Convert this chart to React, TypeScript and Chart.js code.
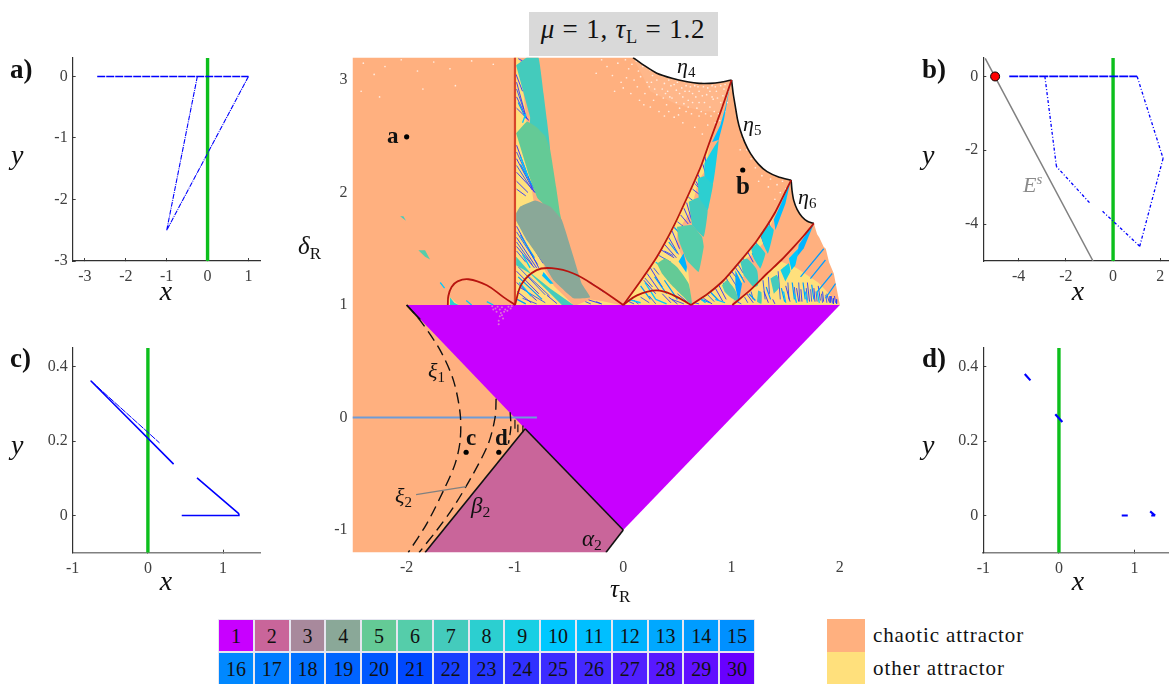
import React, { useEffect, useRef } from "react";
import { Chart, registerables } from "chart.js";
Chart.register(...registerables);

type P = number[];
const serif = "'Liberation Serif', serif";

// ---------- legend ----------
const regimeNumbers = [1,2,3,4,5,6,7,8,9,10,11,12,13,14,15,16,17,18,19,20,21,22,23,24,25,26,27,28,29,30];
const regimeColors = ["#c800ff","#c9659a","#a8899c","#8aa898","#64ca96","#55cdaa","#44cbbc","#2ccfd0","#18cfe4","#00c8ff","#00bfff","#00b4ff","#00a8ff","#009cff","#0090ff","#0088ff","#007cff","#0070ff","#0064ff","#0058ff","#0048ff","#1840ff","#2438ff","#3030ff","#3c2cff","#4428ff","#5020ff","#5818ff","#6010ff","#6800ff"];
const chaoticColor = "#ffb07f";
const otherColor = "#ffe07c";
const attractorLabels = ["chaotic attractor","other attractor"];

// ---------- main panel: curves ----------
const eta4: P[] = [[0.09,3.2],[0.2,3.125],[0.31,3.06],[0.45,3.015],[0.59,2.985],[0.7,2.97],[0.8,2.97],[0.9,2.98],[1.0,3.0]];
const eta5: P[] = [[1.0,3.0],[1.015,2.88],[1.035,2.763],[1.055,2.65],[1.08,2.555],[1.12,2.45],[1.174,2.348],[1.25,2.25],[1.328,2.185],[1.44,2.135],[1.55,2.11]];
const eta6: P[] = [[1.55,2.11],[1.558,2.02],[1.574,1.93],[1.605,1.85],[1.65,1.785],[1.7,1.745],[1.76,1.725]];
const jaggedEdge: P[] = [[1.79,1.63],[1.81,1.6],[1.85,1.517],[1.87,1.5],[1.9,1.38],[1.944,1.28],[1.97,1.15],[2.0,1.0]];
const redRight1: P[] = [[0,1],[0.15,1.2],[0.31,1.427],[0.47,1.71],[0.62,2.02],[0.72,2.24],[0.804,2.467],[0.9,2.72],[1,3]];
const redRight2: P[] = [[0.626,1],[0.78,1.1],[0.927,1.22],[1.08,1.39],[1.236,1.576],[1.4,1.82],[1.55,2.11]];
const redRight3: P[] = [[1.007,1],[1.17,1.13],[1.328,1.28],[1.46,1.4],[1.574,1.517],[1.67,1.62],[1.76,1.725]];
const arcLeft: P[] = [[-1.62,1],[-1.615,1.08],[-1.585,1.16],[-1.53,1.21],[-1.43,1.229],[-1.26,1.175],[-1.106,1.07],[-1,1]];
const arcBig: P[] = [[-1,1],[-0.936,1.19],[-0.8,1.31],[-0.66,1.327],[-0.46,1.28],[-0.243,1.16],[0,1]];
const arcSmall: P[] = [[0,1],[0.127,1.086],[0.31,1.13],[0.465,1.086],[0.626,1]];
const redVertical: P[] = [[-1,1],[-1,3.2]];
const blueLevel: P[] = [[-2.5,0],[-0.797,0]];
const xi1: P[] = [[-2,1],[-1.876,0.864],[-1.69,0.597],[-1.568,0.33],[-1.506,0.035],[-1.506,-0.205],[-1.552,-0.41],[-1.66,-0.65],[-1.815,-0.945],[-1.985,-1.2]];
const xi2: P[] = [[-1.174,0.167],[-1.183,0.003],[-1.246,-0.233],[-1.385,-0.5],[-1.57,-0.8],[-1.72,-1.0],[-1.885,-1.2]];
const xi3: P[] = [[-1.044,0.047],[-1.038,-0.086],[-1.06,-0.233]];
const xiShort = [[-0.973,-0.063,-0.973,-0.13],[-0.927,-0.07,-0.927,-0.13],[-1.0,-0.02,-1.0,-0.1]];
const xi2Leader: P[] = [[-1.913,-0.686],[-1.451,-0.614]];
const beta2: P[] = [[-0.906,-0.1],[-1.83,-1.2]];
const alpha2: P[] = [[0,-1],[-0.16,-1.2]];
const upperEdge2: P[] = [[-0.906,-0.1],[0,-1]];
const cornerEdge: P[] = [[-2,1],[-1.875,0.87]];
const markerPoints: P[] = [[-2,2.495],[1.103,2.2],[-1.451,-0.309],[-1.149,-0.309]];

// ---------- main panel: regions ----------
const purpleRegion: P[] = [[-2,1],[2,1],[0,-1],[-0.906,-0.1]];
const pinkRegion: P[] = [[-0.906,-0.1],[0,-1],[-0.16,-1.2],[-1.83,-1.2]];
const yellowLeft: P[] = [[-1,1],[-1,3.2],[-0.96,3.2],[-0.9,2.7],[-0.84,2.0],[-0.75,1.4],[-0.72,1.3],[-0.64,1.17],[-0.46,1.0]];
const yellowMiddle: P[] = [[-0.428,1],[-0.306,1.05],[-0.2,1.035],[-0.03,1.0]];
const yellowFarLeft: P[] = [[-1.62,1],[-1.6,1.07],[-1.52,1.0]];
const yellowWedge1: P[] = [[0,1],[0.31,1.427],[0.62,2.02],[0.80,2.44],[0.76,2.2],[0.69,2.1],[0.63,1.85],[0.5,1.65],[0.49,1.55],[0.6,1.3],[0.63,1.0]];
const yellowWedge2: P[] = [[0.626,1],[0.927,1.22],[1.236,1.576],[1.40,1.80],[1.30,1.56],[1.2,1.45],[1.14,1.42],[1.1,1.2],[1.0,1.0]];
const yellowWedge3: P[] = [[1.007,1],[1.328,1.28],[1.45,1.39],[1.6,1.33],[1.8,1.2],[1.95,1.05],[2,1]];
const speckleBand: P[] = [[0.09,3.2],[0.31,3.06],[0.59,2.985],[0.8,2.97],[1.0,3.0],[0.9,2.72],[0.75,2.72],[0.5,2.78],[0.25,2.9]];

const tealTop: P[] = [[-0.989,3.13],[-0.89,3.2],[-0.783,3.2],[-0.736,2.88],[-0.705,2.645],[-0.675,2.378],[-0.72,2.3],[-0.86,2.5],[-0.86,2.67]];
const greenTop: P[] = [[-0.989,2.527],[-0.89,2.63],[-0.8,2.58],[-0.72,2.5],[-0.675,2.38],[-0.62,2.05],[-0.583,1.81],[-0.56,1.7],[-0.66,1.83],[-0.79,1.95],[-0.87,2.15]];
const grayBlob: P[] = [[-0.989,1.815],[-0.952,1.875],[-0.813,1.93],[-0.675,1.875],[-0.567,1.755],[-0.46,1.43],[-0.383,1.19],[-0.306,1.07],[-0.46,1.06],[-0.644,1.22],[-0.736,1.368],[-0.89,1.575],[-0.989,1.75]];
const tealSliver: P[] = [[-0.989,1.428],[-0.86,1.29],[-0.675,1.146],[-0.459,1.0],[-0.567,1.0],[-0.86,1.28],[-0.989,1.353]];
const blueSliver: P[] = [[-0.736,1.294],[-0.644,1.19],[-0.675,1.19],[-0.75,1.26]];
const tealFar1: P[] = [[-1.892,1.487],[-1.83,1.487],[-1.784,1.404],[-1.83,1.428]];
const tealFar2: P[] = [[-2.06,1.79],[-2.03,1.79],[-2.007,1.75]];
const tealFar3: P[] = [[-1.6,1.07],[-1.56,1.02],[-1.52,1.0],[-1.6,1.0]];

const w1Green: P[] = [[0.311,1.368],[0.388,1.413],[0.496,1.338],[0.604,1.19],[0.635,0.997],[0.558,1.071],[0.434,1.19],[0.357,1.28]];
const w1Teal6: P[] = [[0.496,1.695],[0.635,1.71],[0.727,1.606],[0.743,1.517],[0.696,1.294],[0.588,1.398],[0.511,1.576]];
const w1Teal7: P[] = [[0.604,1.917],[0.696,1.956],[0.779,1.843],[0.743,1.606],[0.635,1.71]];
const w1Cyan8: P[] = [[0.687,2.125],[0.749,2.145],[0.829,2.08],[0.789,1.873],[0.779,1.843],[0.696,1.956]];
const w1Cyan9: P[] = [[0.749,2.259],[0.82,2.377],[0.881,2.467],[0.829,2.08],[0.749,2.145]];
const w1Blue11: P[] = [[0.82,2.45],[0.897,2.6],[0.943,2.76],[0.988,2.96],[0.93,2.65],[0.881,2.467]];
const w1Blue12: P[] = [[0.511,1.387],[0.557,1.46],[0.588,1.34],[0.582,1.29]];

const w2Teal6: P[] = [[0.912,1.175],[0.958,1.22],[1.035,1.13],[1.066,1.027],[1.005,1.057],[0.937,1.116]];
const w2Teal7: P[] = [[1.081,1.383],[1.143,1.413],[1.235,1.31],[1.244,1.175],[1.205,1.16],[1.112,1.265]];
const w2Cyan8: P[] = [[1.18,1.502],[1.235,1.546],[1.312,1.457],[1.266,1.324],[1.205,1.413]];
const w2Cyan9: P[] = [[1.266,1.636],[1.343,1.71],[1.39,1.666],[1.337,1.457],[1.297,1.53]];
const w2Blue11: P[] = [[1.39,1.76],[1.466,1.92],[1.543,2.095],[1.497,1.9],[1.405,1.666]];
const w2Blue13: P[] = [[1.035,1.31],[1.097,1.19],[1.066,1.027],[1.035,1.16]];

const w3Teal8a: P[] = [[1.359,1.235],[1.42,1.265],[1.442,1.16],[1.39,1.1]];
const w3Teal8b: P[] = [[1.245,1.13],[1.275,1.115],[1.275,1.012],[1.235,1.03]];
const w3Cyan10a: P[] = [[1.452,1.31],[1.529,1.37],[1.544,1.3],[1.497,1.21]];
const w3Cyan10b: P[] = [[1.529,1.415],[1.62,1.505],[1.59,1.355],[1.553,1.31]];
const w3Blue12: P[] = [[1.62,1.535],[1.727,1.685],[1.757,1.715],[1.667,1.505],[1.605,1.43]];

// ---------- main panel: fine stripes (x0,y0,x1,y1) ----------
const stripesPurple = [
  [-0.985,2.98,-0.9,2.68],[-0.985,2.85,-0.885,2.65],[-0.985,2.75,-0.87,2.64],[-0.99,3.05,-0.93,2.9],[-0.97,3.19,-0.93,3.17],
  [-0.985,2.42,-0.84,2.04],[-0.985,2.3,-0.82,2.0],[-0.985,2.18,-0.8,1.99],[-0.985,2.1,-0.88,2.0],[-0.985,2.03,-0.9,1.97],
  [-0.985,1.7,-0.78,1.33],[-0.985,1.6,-0.8,1.33],[-0.985,1.52,-0.82,1.33],[-0.94,1.68,-0.74,1.37],
  [-0.985,1.3,-0.78,1.1],[-0.985,1.2,-0.8,1.04],[-0.98,1.12,-0.85,1.02],[-0.705,1.087,-0.613,1.013],
  [-0.305,1.203,-0.183,1.116],[-0.32,1.045,-0.2,1.01],
  [0.35,1.49,0.47,1.42],[0.38,1.54,0.49,1.42],[0.42,1.6,0.51,1.45],[0.45,1.66,0.52,1.5],
  [0.53,1.8,0.6,1.72],[0.56,1.86,0.62,1.73],[0.585,1.91,0.63,1.76],
  [0.64,2.03,0.72,1.97],[0.67,2.1,0.73,2.0],[0.69,2.16,0.74,2.05],[0.735,2.25,0.76,2.17],[0.755,2.32,0.775,2.2],
  [0.19,1.22,0.3,1.1],[0.22,1.28,0.33,1.13],[0.25,1.33,0.36,1.16],[0.36,1.1,0.44,1.02],[0.42,1.07,0.5,1.01],[0.1,1.04,0.14,1.01],
  [0.74,1.06,0.82,1.01],[0.85,1.15,0.92,1.03],[0.88,1.18,0.95,1.05],[1.0,1.3,1.08,1.2],[1.03,1.34,1.1,1.24],[1.15,1.47,1.2,1.38],[1.19,1.52,1.22,1.44],[1.27,1.62,1.3,1.54],[1.3,1.67,1.33,1.6],
  [1.14,1.1,1.2,1.02],[1.3,1.12,1.34,1.02],[1.38,1.05,1.4,1.01],[1.5,1.17,1.54,1.03],[1.6,1.15,1.62,1.03],[1.7,1.2,1.72,1.03],[1.8,1.17,1.82,1.04],[1.88,1.1,1.9,1.03],[1.95,1.08,1.96,1.02],[1.64,1.14,1.65,1.03],[1.76,1.15,1.77,1.03],[1.84,1.12,1.85,1.03],[1.92,1.08,1.93,1.02],
];
const stripesFine = [
  [-0.985,2.92,-0.92,2.74],[-0.985,2.36,-0.86,2.1],[-0.985,2.24,-0.84,2.02],[-0.985,1.65,-0.79,1.36],[-0.985,1.56,-0.84,1.36],[-0.985,1.48,-0.9,1.38],[-0.97,1.34,-0.72,1.09],[-0.96,1.16,-0.72,1.02],[-0.93,1.06,-0.8,1.01],[-0.88,1.26,-0.68,1.08],
  [0.03,1.04,0.1,1.01],[0.16,1.07,0.24,1.02],[0.24,1.08,0.3,1.01],[0.45,1.05,0.56,1.01],[0.5,1.1,0.6,1.02],[0.55,1.14,0.62,1.03],[0.2,1.24,0.27,1.16],[0.28,1.33,0.33,1.27],[0.33,1.44,0.44,1.38],[0.38,1.48,0.46,1.44],[0.5,1.74,0.58,1.68],[0.6,1.96,0.68,1.9],[0.66,2.08,0.72,2.02],
  [0.66,1.02,0.7,1.01],[0.78,1.09,0.84,1.03],[0.92,1.2,0.98,1.09],[0.95,1.24,1.02,1.12],[0.98,1.27,1.05,1.16],[1.06,1.36,1.11,1.28],[1.1,1.42,1.15,1.36],[1.22,1.56,1.27,1.48],[1.34,1.74,1.37,1.66],
  [1.05,1.03,1.09,1.01],[1.12,1.07,1.15,1.02],[1.18,1.12,1.2,1.05],[1.29,1.22,1.31,1.05],[1.34,1.25,1.35,1.1],[1.43,1.3,1.45,1.05],[1.52,1.2,1.53,1.05],[1.58,1.16,1.59,1.04],[1.62,1.2,1.63,1.03],[1.69,1.15,1.7,1.04],[1.73,1.14,1.74,1.03],[1.78,1.12,1.79,1.03],[1.83,1.1,1.84,1.02],[1.87,1.09,1.88,1.02],[1.91,1.08,1.91,1.02],[1.94,1.06,1.94,1.01],[1.97,1.05,1.97,1.01],
  [-0.35,1.03,-0.3,1.01],[-0.25,1.03,-0.2,1.01],
];
const stripesBlue = [
  [-0.97,2.8,-0.9,2.66],[-0.95,2.25,-0.82,2.03],[-0.8,2.06,-0.78,1.99],[-0.97,1.25,-0.75,1.05],[-0.95,1.62,-0.82,1.42],[-0.98,1.05,-0.9,1.01],
  [0.16,1.17,0.25,1.05],[0.29,1.25,0.4,1.1],[0.38,1.22,0.5,1.05],[0.42,1.56,0.5,1.46],[0.47,1.69,0.56,1.6],
  [0.8,1.12,0.88,1.04],[0.72,1.05,0.8,1.02],[1.06,1.3,1.12,1.2],[1.19,1.46,1.24,1.38],
  [1.16,1.1,1.22,1.04],[1.32,1.16,1.36,1.05],[1.46,1.15,1.49,1.03],[1.56,1.2,1.58,1.05],[1.66,1.2,1.68,1.05],[1.74,1.18,1.76,1.05],[1.851,1.5,1.637,1.25],[1.867,1.4,1.728,1.235],[1.929,1.28,1.79,1.117],[1.96,1.19,1.867,1.06],
];
const stripesCyan = [
  [-0.93,2.62,-0.9,2.7],[-0.95,2.32,-0.88,2.14],[-0.93,1.45,-0.86,1.33],[-0.96,1.2,-0.85,1.08],
  [0.05,1.05,0.16,1.02],[0.2,1.2,0.3,1.05],[0.3,1.05,0.4,1.01],[0.3,1.38,0.42,1.3],[0.72,1.05,0.76,1.02],[0.85,1.05,0.94,1.02],
  [1.48,1.12,1.5,1.02],[1.58,1.1,1.6,1.02],[1.68,1.12,1.7,1.02],[1.79,1.12,1.81,1.02],[-1.45,1.04,-1.4,1.0],[-1.26,1.03,-1.2,1.0],[-1.69,1.2,-1.65,1.15],
];

// ---------- main panel: dots ----------
const whiteSpeckle: P[] = [[0.12,3.17],[0.18,3.12],[0.16,3.03],[0.25,3.09],[0.22,2.98],[0.31,3.0],[0.34,3.05],[0.29,2.92],[0.38,2.97],[0.42,3.0],[0.41,2.9],[0.47,2.96],[0.5,2.98],[0.45,2.84],[0.54,2.93],[0.58,2.95],[0.55,2.85],[0.62,2.94],[0.66,2.95],[0.6,2.82],[0.7,2.9],[0.74,2.94],[0.67,2.85],[0.78,2.93],[0.82,2.95],[0.75,2.8],[0.86,2.9],[0.9,2.95],[0.83,2.83],[0.94,2.96],[0.97,2.9],[0.9,2.8],[0.96,2.8],[0.88,2.7],[0.72,2.72],[0.63,2.7],[0.52,2.75],[0.4,2.78],[0.28,2.82],[0.85,2.62],[0.78,2.6],[0.92,2.86],[0.7,2.8],[0.58,2.72],[0.47,2.67],[0.33,2.72],[0.2,2.88],[0.1,3.0],[0.05,3.1],[-0.05,3.15],[-0.1,3.04],[0.0,2.93],
  [0.14,3.08],[0.27,3.04],[0.36,2.92],[0.44,2.95],[0.52,2.88],[0.57,2.9],[0.64,2.88],[0.69,2.94],[0.73,2.86],[0.77,2.87],[0.8,2.9],[0.85,2.94],[0.87,2.84],[0.93,2.92],[0.91,2.76],[0.8,2.76],[0.68,2.75],[0.56,2.79],[0.43,2.85],[0.31,2.87],[0.24,2.94],[0.08,3.14],[0.03,3.02],[0.64,2.8],[0.76,2.7],[0.84,2.72],
  [0.19,2.78],[0.38,2.68],[0.55,2.62],[0.66,2.58],[0.73,2.52],[0.02,3.18],[-0.02,2.98],[0.07,2.88],[0.13,2.94],[0.37,2.84],[0.49,2.8],[0.6,2.76],[0.7,2.68],[0.81,2.68],[0.89,2.64],[0.94,2.72],[0.15,2.82],[0.25,2.76],[0.42,2.72],[0.51,2.69],[-0.15,3.12],[-0.2,3.18],[-0.25,3.06],[-0.08,2.9],[0.82,2.85],[0.72,2.98],[0.61,2.9],[0.49,2.91],[0.39,2.88],[0.26,2.98],
  [-2.4,3.15],[-2.3,3.05],[-2.2,3.12],[-2.05,3.18],[-1.9,3.08],[-1.75,3.16],[-1.6,3.1],[-1.4,3.17],[-1.2,3.14],[-2.42,2.9],[-2.25,2.85],[-1.85,2.92],[-1.55,2.95],
  [1.36,2.12],[1.42,2.07],[1.47,2.1],[1.5,2.03],[1.53,2.07],[1.45,2.0],[1.34,2.05],[1.28,2.15],[1.22,2.22],[1.25,2.1],[1.18,2.3],[1.14,2.38],[1.1,2.48],[1.5,1.96],[1.4,1.94],[1.08,2.38]];
const purpleSpeckle: P[] = [[-1.21,0.99],[-1.18,0.97],[-1.16,0.985],[-1.14,0.96],[-1.12,0.98],[-1.09,0.96],[-1.06,0.985],[-1.04,0.97],[-1.17,0.94],[-1.13,0.93],[-1.1,0.94],[-1.07,0.95],[-1.14,0.9],[-1.12,0.91],[-1.15,0.86],[-1.15,0.83],[-1.03,0.99],[-1.2,0.96],[-1.11,0.88]];

// ---------- phase portraits ----------
const aFlat = [[-2.7,0,1,0]];
const aOrbit = [[1,0,-1,-2.5],[-1,-2.5,-0.25,0]];
const bFlat = [[-4.4,0,1.02,0]];
const bOrbit = [[1.02,0,2.12,-2.22],[2.12,-2.22,1.13,-4.6],[1.13,-4.6,-0.5,-3.62],[-1.0,-3.42,-2.4,-2.44],[-2.4,-2.44,-2.89,0]];
const cOrbit = [[-0.76,0.362,0.342,0.138],[0.653,0.101,1.208,0.005],[0.45,0,1.2,0],[1.2,0,1.21,0.005]];
const cOrbitThin = [[-0.76,0.362,0.155,0.195]];
const dOrbit = [[-0.452,0.38,-0.377,0.363],[-0.048,0.272,0.045,0.251],[0.83,0,0.91,0],[1.206,0.011,1.272,0],[1.22,0,1.272,0]];
const eStable: P[] = [[-5.42,0.49],[-0.85,-5]];
const fixedPoint: P[] = [[-5.0,0]];

const ticksA = { x: [-3,-2,-1,0,1], y: [-3,-2,-1,0] };
const ticksB = { x: [-4,-2,0,2], y: [-4,-2,0] };
const ticksCD = { x: [-1,0,1], y: [0,0.2,0.4] };
const ticksMain = { x: [-2,-1,0,1,2], y: [-1,0,1,2,3] };

// ---------- dataset helpers ----------
const toPts = (a: P[]) => a.map(([x, y]) => ({ x, y }));
const segPts = (s: number[][]) => s.flatMap(([a, b, c, d]) => [{ x: a, y: b }, { x: c, y: d }, { x: c, y: NaN }]);
const region = (label: string, pts: P[], color: string, tension = 0) => ({
  label, data: toPts(pts), showLine: true, fill: "shape", backgroundColor: color, borderColor: color, borderWidth: 0, pointRadius: 0, tension,
});
const curve = (label: string, pts: P[], color: string, width: number, extra: any = {}) => ({
  label, data: toPts(pts), showLine: true, fill: false, borderColor: color, borderWidth: width, pointRadius: 0, tension: 0, ...extra,
});
const segs = (label: string, s: number[][], color: string, width: number, extra: any = {}) => ({
  label, data: segPts(s), showLine: true, fill: false, borderColor: color, borderWidth: width, pointRadius: 0, spanGaps: false, ...extra,
});
const dots = (label: string, pts: P[], color: string, r: number, extra: any = {}) => ({
  label, data: toPts(pts), showLine: false, backgroundColor: color, borderColor: color, borderWidth: 0, pointRadius: r, ...extra,
});
const rc = (n: number) => regimeColors[n - 1];
const red = "#b8140f";

// painter's order: first entry is drawn first
const mainDatasets = [
  region("chaotic", [[-2.5,3.2],...eta4,...eta5.slice(1),...eta6.slice(1),...jaggedEdge,[0,1],[-0.906,-0.1],[-1.83,-1.2],[-2.5,-1.2]], chaoticColor),
  region("speckle band", speckleBand, "rgba(255,228,208,0.14)"),
  dots("speckle", whiteSpeckle, "#ffeadd", 0.85),
  region("other-left", yellowLeft, otherColor),
  region("other-mid", yellowMiddle, otherColor),
  region("other-far", yellowFarLeft, otherColor),
  region("other-w1", yellowWedge1, otherColor),
  region("other-w2", yellowWedge2, otherColor),
  region("other-w3", yellowWedge3, otherColor),
  segs("stripes-purple", stripesPurple, rc(24), 0.9),
  segs("stripes-fine", stripesFine, rc(22), 0.8),
  segs("stripes-blue", stripesBlue, rc(14), 1.2),
  segs("stripes-cyan", stripesCyan, rc(10), 1.3),
  region("r7-top", tealTop, rc(7), 0.1),
  region("r5-top", greenTop, rc(5), 0.1),
  region("r4", grayBlob, rc(4), 0.1),
  region("r7-sliver", tealSliver, rc(7)),
  region("r11-sliver", blueSliver, rc(11)),
  region("r7-far1", tealFar1, rc(6)),
  region("r7-far2", tealFar2, rc(7)),
  region("r9-far3", tealFar3, rc(8)),
  region("w1-5", w1Green, rc(5), 0.15),
  region("w1-6", w1Teal6, rc(6), 0.1),
  region("w1-7", w1Teal7, rc(7), 0.1),
  region("w1-8", w1Cyan8, rc(8), 0.1),
  region("w1-9", w1Cyan9, rc(9), 0.1),
  region("w1-11", w1Blue11, rc(11)),
  region("w1-12", w1Blue12, rc(12)),
  region("w2-6", w2Teal6, rc(6), 0.2),
  region("w2-7", w2Teal7, rc(7), 0.2),
  region("w2-8", w2Cyan8, rc(8), 0.1),
  region("w2-9", w2Cyan9, rc(9), 0.1),
  region("w2-11", w2Blue11, rc(11)),
  region("w2-13", w2Blue13, rc(13)),
  region("w3-8a", w3Teal8a, rc(7), 0.2),
  region("w3-8b", w3Teal8b, rc(7), 0.2),
  region("w3-10a", w3Cyan10a, rc(9), 0.1),
  region("w3-10b", w3Cyan10b, rc(10), 0.1),
  region("w3-12", w3Blue12, rc(12)),
  region("pink", pinkRegion, rc(2)),
  region("purple", purpleRegion, rc(1)),
  dots("purple-speckle", purpleSpeckle, "#e070d8", 1),
  curve("blue level", blueLevel, "#6f9bd6", 2.2),
  curve("xi1", xi1, "#111", 1.4, { borderDash: [11, 6], tension: 0.3 }),
  curve("xi2", xi2, "#111", 1.4, { borderDash: [11, 6], tension: 0.3 }),
  curve("xi3", xi3, "#111", 1.4, { borderDash: [9, 5], tension: 0.3 }),
  segs("xi short", xiShort, "#111", 1.2),
  curve("xi2 leader", xi2Leader, "#808080", 1.2),
  curve("beta2", beta2, "#111", 1.6),
  curve("alpha2", alpha2, "#111", 1.6),
  curve("edge2", upperEdge2, "#111", 1.6),
  curve("corner", cornerEdge, "#111", 1.8),
  curve("eta4", eta4, "#111", 1.6, { tension: 0.2 }),
  curve("eta5", eta5, "#111", 1.6, { tension: 0.2 }),
  curve("eta6", eta6, "#111", 1.6, { tension: 0.2 }),
  curve("vertical", redVertical, "#d8452a", 2.2),
  curve("red1", redRight1, red, 1.8, { tension: 0.2 }),
  curve("red2", redRight2, red, 1.8, { tension: 0.2 }),
  curve("red3", redRight3, red, 1.8, { tension: 0.2 }),
  curve("arcLeft", arcLeft, red, 1.8, { tension: 0.4 }),
  curve("arcBig", arcBig, red, 1.8, { tension: 0.4 }),
  curve("arcSmall", arcSmall, red, 1.8, { tension: 0.4 }),
  dots("markers", markerPoints, "#000", 2.6),
];

const green = "#0cbf1c";
const blue = "#0000ff";
const greenLine = (lo: number, hi: number) => curve("switching", [[0, lo], [0, hi]], green, 3.4);

type Box = { L: number; T: number; R: number; B: number };
type PanelCfg = {
  box: Box; x: [number, number]; y: [number, number]; xt: number[]; yt: number[]; datasets: any[];
  axes: boolean; xColor?: string; xWidth?: number;
};

function Panel({ box, x, y, xt, yt, datasets, axes, xColor, xWidth }: PanelCfg) {
  const ref = useRef<HTMLCanvasElement>(null);
  const ml = 46, mt = 6, mr = 8, mb = 36;
  const cl = Math.floor(box.L) - ml, ct = Math.floor(box.T) - mt;
  const padL = box.L - Math.floor(box.L), padT = box.T - Math.floor(box.T);
  const w = Math.ceil(box.R - box.L + ml + mr + padL), h = Math.ceil(box.B - box.T + mt + mb + padT);
  useEffect(() => {
    const ds = datasets.map((d, i) => ({ ...d, order: datasets.length - i }));
    const scale = (range: [number, number], ticks: number[], isX: boolean) => ({
      type: "linear", min: range[0], max: range[1],
      afterBuildTicks: (s: any) => { s.ticks = ticks.map((value) => ({ value })); },
      afterFit: (s: any) => {
        if (isX) s.height = h - (box.B - box.T) - mt - padT; else s.width = ml + padL;
        s.paddingTop = 0; s.paddingBottom = 0; s.paddingLeft = 0; s.paddingRight = 0;
      },
      ticks: {
        autoSkip: false, maxRotation: 0, color: "#404040",
        font: { family: serif, size: 16 },
        padding: axes ? (isX ? 9 : 8) : (isX ? 6 : 5),
        callback: (v: any) => String(v),
      },
      grid: { display: axes, drawOnChartArea: false, drawTicks: axes, tickLength: -3, color: "#404040", lineWidth: 1 },
      border: { display: axes, color: isX && xColor ? xColor : "#303030", width: isX && xWidth ? xWidth : 1.2 },
    });
    const chart = new Chart(ref.current as HTMLCanvasElement, {
      type: "scatter",
      data: { datasets: ds },
      options: {
        animation: false, responsive: false, events: [],
        layout: { padding: { top: mt + padT, right: w - (ml + padL) - (box.R - box.L), left: 0, bottom: 0 } },
        plugins: { legend: { display: false }, tooltip: { enabled: false } },
        scales: { x: scale(x, xt, true), y: scale(y, yt, false) },
      },
    } as any);
    return () => chart.destroy();
  }, []);
  return <canvas ref={ref} width={w} height={h} style={{ position: "absolute", left: cl, top: ct, width: w, height: h }} />;
}

const Sub = ({ children }: any) => (
  <span style={{ fontSize: "68%", position: "relative", top: "0.28em", fontStyle: "normal", lineHeight: 0 }}>{children}</span>
);
const Tx = ({ x, b, s, children, w, i, c, center, ls }: any) => (
  <div style={{
    position: "absolute", left: x, top: b - 0.84 * s, fontSize: s, lineHeight: 1, whiteSpace: "nowrap", fontFamily: serif,
    fontWeight: w ? 700 : 400, fontStyle: i ? "italic" : "normal", color: c || "#111", letterSpacing: ls,
    transform: center ? "translateX(-50%)" : undefined,
  }}>{children}</div>
);

export default function App() {
  return (
    <div style={{ position: "absolute", left: 0, top: 0, width: 1169, height: 684, overflow: "hidden", background: "#fff" }}>
      <Panel box={{ L: 352.5, T: 57.5, R: 850.7, B: 552.5 }} x={[-2.5, 2.1]} y={[-1.2, 3.2]} xt={ticksMain.x} yt={ticksMain.y} datasets={mainDatasets} axes={false} />
      <Panel box={{ L: 72.7, T: 58, R: 260.7, B: 261 }} x={[-3.3, 1.3]} y={[-3, 0.3]} xt={ticksA.x} yt={ticksA.y} axes
        datasets={[greenLine(-3, 0.3), segs("orbit a flat", aFlat, blue, 1.5, { borderDash: [8, 1] }), segs("orbit a", aOrbit, blue, 1.1, { borderDash: [5, 1, 1, 1] })]} />
      <Panel box={{ L: 983.3, T: 58, R: 1169, B: 261 }} x={[-5.5, 2.37]} y={[-5, 0.5]} xt={ticksB.x} yt={ticksB.y} axes
        datasets={[greenLine(-5, 0.5), curve("stable", eStable, "#808080", 1.5), segs("orbit b flat", bFlat, blue, 1.7, { borderDash: [9, 1] }), segs("orbit b", bOrbit, blue, 1.3, { borderDash: [3, 2, 1, 2] }),
          dots("fixed", fixedPoint, "#ff0000", 4.5, { borderColor: "#000", borderWidth: 1 })]} />
      <Panel box={{ L: 72.7, T: 348, R: 260.7, B: 552.7 }} x={[-1, 1.5]} y={[-0.1, 0.45]} xt={ticksCD.x} yt={ticksCD.y} axes xColor="#808080" xWidth={1.6}
        datasets={[greenLine(-0.1, 0.45), segs("orbit c", cOrbit, blue, 1.6), segs("orbit c thin", cOrbitThin, blue, 1, { borderDash: [7, 1] })]} />
      <Panel box={{ L: 983.3, T: 348, R: 1169, B: 552.7 }} x={[-1, 1.455]} y={[-0.1, 0.45]} xt={ticksCD.x} yt={ticksCD.y} axes xColor="#808080" xWidth={1.6}
        datasets={[greenLine(-0.1, 0.45), segs("orbit d", dOrbit, blue, 2.2)]} />

      <div style={{ position: "absolute", left: 529, top: 12, width: 189, height: 44, background: "#d9d9d9" }} />
      <Tx x={623} b={39} s={27} ls="0.8px" center><i>μ</i> = 1, <i>τ</i><i><Sub>L</Sub></i> = 1.2</Tx>

      <Tx x={10} b={79} s={27} w>a)</Tx>
      <Tx x={922} b={79} s={27} w>b)</Tx>
      <Tx x={10} b={368} s={27} w>c)</Tx>
      <Tx x={922} b={368} s={27} w>d)</Tx>
      <Tx x={11} b={165} s={28} i>y</Tx>
      <Tx x={922} b={165} s={28} i>y</Tx>
      <Tx x={11} b={455} s={28} i>y</Tx>
      <Tx x={922} b={455} s={28} i>y</Tx>
      <Tx x={166} b={301} s={28} i center>x</Tx>
      <Tx x={1078} b={301} s={28} i center>x</Tx>
      <Tx x={166} b={591} s={28} i center>x</Tx>
      <Tx x={1078} b={591} s={28} i center>x</Tx>

      <Tx x={298} b={254} s={25}><i>δ</i><i><Sub>R</Sub></i></Tx>
      <Tx x={610} b={597} s={25}><i>τ</i><i><Sub>R</Sub></i></Tx>
      <Tx x={677} b={73} s={22}><i>η</i><Sub>4</Sub></Tx>
      <Tx x={743} b={131} s={22}><i>η</i><Sub>5</Sub></Tx>
      <Tx x={798} b={204} s={22}><i>η</i><Sub>6</Sub></Tx>
      <Tx x={428} b={378} s={22}><i>ξ</i><Sub>1</Sub></Tx>
      <Tx x={395} b={503} s={22}><i>ξ</i><Sub>2</Sub></Tx>
      <Tx x={471} b={513} s={23}><i>β</i><Sub>2</Sub></Tx>
      <Tx x={582} b={546} s={23}><i>α</i><Sub>2</Sub></Tx>
      <Tx x={387} b={143} s={23} w>a</Tx>
      <Tx x={736} b={194} s={25} w>b</Tx>
      <Tx x={466} b={445} s={23} w>c</Tx>
      <Tx x={495} b={445} s={23} w>d</Tx>
      <Tx x={1023} b={192} s={22} i c="#8a8a8a">E<sup style={{ fontSize: "68%", lineHeight: 0 }}>s</sup></Tx>

      {regimeNumbers.map((n, i) => {
        const col = i % 15, row = Math.floor(i / 15);
        return (
          <div key={n} style={{
            position: "absolute", left: 218 + col * 35.8, top: 619 + row * 33, width: 35.8, height: 32.5, boxSizing: "border-box",
            background: regimeColors[i], border: "0.5px solid #e6e6f0", textAlign: "center", lineHeight: "32px",
            fontFamily: serif, fontSize: 20, color: "#111",
          }}>{n}</div>
        );
      })}
      {[chaoticColor, otherColor].map((c, i) => (
        <div key={c} style={{ position: "absolute", left: 827, top: 619 + i * 33, width: 38, height: 33, background: c }} />
      ))}
      {attractorLabels.map((t, i) => (
        <Tx key={t} x={873} b={643 + i * 33} s={21} ls="0.9px">{t}</Tx>
      ))}
    </div>
  );
}
